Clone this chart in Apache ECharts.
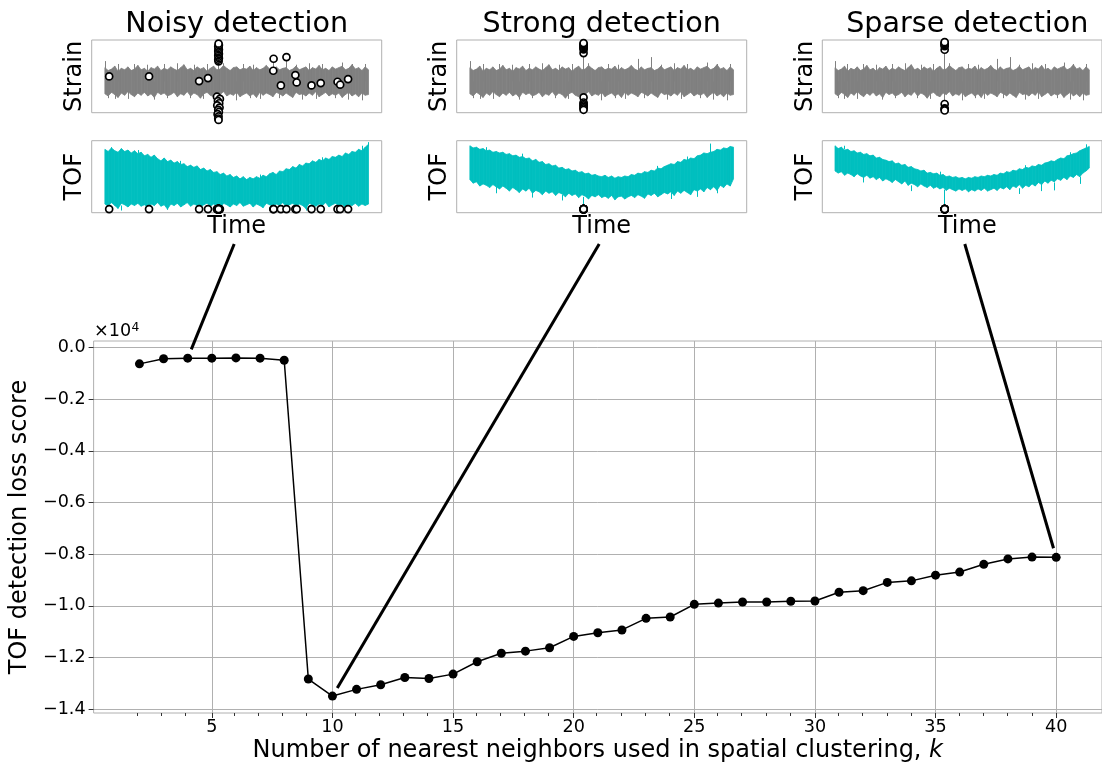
<!DOCTYPE html>
<html>
<head>
<meta charset="utf-8">
<script src="https://cdn.jsdelivr.net/npm/echarts@6/dist/echarts.min.js"></script>
<style>
  html, body { margin: 0; padding: 0; background: #fff; }
  #chart { width: 1102px; height: 766px; }
</style>
</head>
<body>
<div id="chart"></div>
<script>
// ---- main curve: TOF detection loss (x10^4) versus k ----
const K_VALUES = [2, 3, 4, 5, 6, 7, 8, 9, 10, 11, 12, 13, 14, 15, 16, 17, 18, 19, 20, 21,
  22, 23, 24, 25, 26, 27, 28, 29, 30, 31, 32, 33, 34, 35, 36, 37, 38, 39, 40];
const LOSS = [-0.063, -0.043, -0.041, -0.041, -0.040, -0.041, -0.049, -1.283, -1.349, -1.323,
  -1.305, -1.277, -1.281, -1.264, -1.216, -1.183, -1.175, -1.162, -1.118, -1.104,
  -1.093, -1.048, -1.043, -0.994, -0.989, -0.985, -0.985, -0.982, -0.981, -0.947,
  -0.941, -0.909, -0.903, -0.881, -0.869, -0.839, -0.818, -0.811, -0.812];
const X_TICKS = [5, 10, 15, 20, 25, 30, 35, 40];
const X_MINOR = [2, 3, 4, 6, 7, 8, 9, 11, 12, 13, 14, 16, 17, 18, 19, 21, 22, 23, 24, 26,
  27, 28, 29, 31, 32, 33, 34, 36, 37, 38, 39];
const Y_TICKS = [0, -0.2, -0.4, -0.6, -0.8, -1.0, -1.2, -1.4];
const X_MIN = 0.1, X_MAX = 41.9;
const Y_MIN = -1.4145, Y_MAX = 0.0255;

// k values whose detections are shown in the three insets
const CALLOUT_K = [4, 10, 40];
const PANEL_TITLES = ['Noisy detection', 'Strong detection', 'Sparse detection'];

// ---- strain trace (shared by the three insets), sample index 0..80 ----
const STRAIN_HI = [
  19, 15, 17, 21, 14, 18, 16, 20, 15, 17,
  22, 16, 18, 14, 19, 17, 21, 15, 18, 16,
  20, 17, 15, 19, 23, 16, 18, 15, 20, 17,
  19, 14, 18, 21, 16, 17, 22, 18, 15, 19,
  20, 16, 18, 17, 21, 15, 19, 16, 18, 22,
  17, 15, 20, 16, 18, 19, 15, 17, 21, 16,
  18, 20, 15, 19, 17, 22, 16, 18, 15, 20,
  17, 19, 21, 16, 18, 23, 17, 19, 15, 20,
  16];
const STRAIN_LO = [
  -17, -20, -15, -18, -22, -16, -19, -14, -18, -21,
  -16, -19, -15, -20, -17, -22, -15, -18, -16, -20,
  -18, -15, -21, -17, -19, -14, -20, -16, -18, -23,
  -17, -15, -19, -21, -16, -18, -14, -20, -17, -19,
  -15, -21, -18, -16, -20, -17, -22, -15, -19, -16,
  -18, -21, -15, -17, -20, -16, -19, -22, -15, -18,
  -17, -20, -16, -19, -14, -21, -18, -15, -20, -17,
  -19, -16, -22, -18, -15, -20, -17, -21, -16, -19,
  -18];
// isolated strain excursions: [sample, from, to]
const STRAIN_SPIKES = [
  [0, 0, 28], [4, 0, 24], [9, 0, 24], [13, 0, 23], [18, 0, 24], [22, 0, 25], [27, 0, 23],
  [31, 0, 24], [36, 0, 25], [42, 0, 24], [45, 0, 23], [51.1, 0, 31], [55.1, 0, 33.5],
  [58, 0, 23], [62, 0, 25], [66, 0, 24], [72, 0, 26], [75, 0, 24], [79, 0, 24],
  [1, 0, -23], [3, 0, -24], [7, 0, -24], [15, 0, -25], [19, 0, -23], [26, 0, -23],
  [30, 0, -24], [40, 0, -26], [44, 0, -23], [47, 0, -24], [53, 0, -23], [60, 0, -25],
  [64, 0, -24], [70, 0, -23], [74, 0, -25], [78, 0, -26]];
const BURST_NOISY = [[34.5, -52, 52]];
const BURST_STRONG = [[34.5, -39, 52]];
const BURST_SPARSE = [[34.5, -39, 53]];

// ---- TOF traces, one per inset ----
const TOF_NOISY_HI = [
  88, 85, 90, 86, 84, 89, 85, 87, 83, 86,
  82, 84, 79, 81, 77, 80, 75, 72, 76, 71,
  73, 69, 71, 67, 68, 64, 66, 63, 65, 60,
  62, 58, 60, 56, 57, 53, 55, 51, 53, 49,
  51, 47, 50, 46, 49, 47, 50, 48, 52, 50,
  54, 56, 53, 58, 57, 61, 60, 64, 62, 67,
  65, 69, 68, 72, 70, 74, 72, 76, 74, 78,
  77, 80, 78, 83, 81, 85, 84, 88, 86, 91,
  95];
const TOF_NOISY_LO = [
  12, 9, 14, 10, 6, 13, 11, 8, 12, 10,
  13, 9, 11, 7, 12, 10, 14, 9, 11, 5,
  12, 10, 13, 8, 11, 14, 9, 12, 10, 7,
  11, 13, 9, 12, 10, 6, 13, 11, 8, 12,
  10, 14, 9, 11, 13, 8, 12, 10, 7, 13,
  11, 9, 12, 10, 14, 8, 11, 13, 9, 12,
  10, 6, 13, 11, 9, 12, 10, 14, 8, 11,
  13, 9, 12, 7, 11, 10, 13, 9, 12, 10,
  12];
const TOF_STRONG_HI = [
  93, 90, 91, 88, 89, 86, 87, 84, 85, 83,
  84, 81, 82, 79, 80, 77, 78, 75, 76, 72,
  74, 70, 71, 67, 68, 65, 66, 62, 63, 60,
  61, 58, 59, 56, 57, 54, 55, 52, 53, 51,
  50, 52, 49, 51, 48, 50, 49, 51, 50, 53,
  52, 55, 54, 57, 56, 59, 58, 62, 61, 64,
  66, 68, 67, 71, 70, 74, 73, 76, 75, 79,
  80, 83, 82, 84, 85, 88, 87, 90, 89, 92,
  91];
const TOF_STRONG_LO = [
  46, 41, 43, 37, 40, 38, 35, 39, 36, 33,
  37, 34, 30, 35, 32, 28, 33, 30, 34, 27,
  31, 29, 25, 30, 27, 29, 24, 28, 26, 22,
  27, 24, 26, 21, 25, 23, 19, 24, 22, 25,
  21, 23, 20, 24, 18, 22, 23, 19, 22, 24,
  21, 25, 23, 20, 26, 24, 27, 22, 25, 28,
  26, 29, 24, 30, 27, 31, 28, 25, 32, 30,
  33, 29, 35, 32, 36, 31, 38, 35, 40, 37,
  47];
const TOF_SPARSE_HI = [
  93, 89, 91, 87, 88, 85, 86, 83, 84, 81,
  82, 79, 80, 76, 77, 74, 73, 71, 72, 68,
  69, 66, 67, 63, 64, 61, 60, 58, 59, 55,
  56, 54, 55, 52, 53, 50, 51, 49, 50, 48,
  49, 47, 49, 48, 50, 49, 51, 50, 52, 51,
  53, 52, 55, 54, 57, 56, 59, 58, 61, 60,
  63, 62, 65, 64, 67, 66, 69, 70, 72, 71,
  74, 76, 75, 79, 80, 82, 83, 86, 88, 90,
  92];
const TOF_SPARSE_LO = [
  58, 55, 57, 52, 55, 53, 50, 54, 51, 49,
  52, 48, 50, 46, 49, 44, 47, 45, 42, 46,
  43, 40, 44, 38, 41, 39, 36, 40, 37, 35,
  38, 34, 36, 33, 35, 31, 34, 32, 30, 33,
  31, 33, 29, 32, 30, 33, 31, 34, 30, 32,
  34, 31, 35, 33, 36, 32, 37, 35, 39, 34,
  38, 36, 40, 37, 42, 39, 44, 41, 45, 43,
  47, 45, 49, 46, 51, 49, 53, 50, 55, 58,
  62];
// isolated TOF excursions: [sample, from, to]
const TOF_SPIKES_NOISY = [
  [2, 86, 91], [10, 82, 87], [23, 67, 72], [47, 48, 53], [66, 72, 77], [78, 86, 93], [80, 92, 98],
  [5, 10, 3], [19, 9, 4], [35, 9, 3], [61, 9, 3], [73, 10, 4]];
const TOF_SPIKES_STRONG = [
  [34.5, 22, 5], [8, 36, 27], [19, 29, 21], [28, 25, 17], [61, 28, 19], [69, 31, 22], [75, 35, 27],
  [5, 86, 91], [16, 77, 82], [57, 60, 65], [66, 72, 78], [73, 83, 96]];
const TOF_SPIKES_SPARSE = [
  [34.5, 32, 5], [9, 50, 42], [24, 38, 30], [58, 34, 26], [65, 40, 30], [69, 42, 31], [77, 50, 40],
  [3, 88, 93], [33, 52, 57], [60, 61, 66], [74, 78, 84], [79, 90, 95]];

// ---- detected samples: [sample, strain value] ----
const DETECT_NOISY = [
  [1.3, 6.9], [13.4, 6.9], [28.6, 0.5], [31.3, 4.6], [51.1, 14.7], [51.2, 31.2], [53.4, -5.5],
  [55.1, 33.5], [57.8, 8.8], [58.2, -1.4], [62.7, -5.5], [65.5, -2.3], [70.6, -0.4],
  [71.4, -4.5], [73.8, 3.2],
  [34.5, 27.5], [34.4, 30], [34.6, 32], [34.5, 34], [34.4, 36], [34.6, 38], [34.5, 40],
  [34.4, 42], [34.6, 44], [34.5, 46], [34.4, 48], [34.6, 50], [34.5, 52],
  [34.0, -21], [34.9, -24], [34.3, -27], [34.7, -30], [34.1, -33], [34.8, -36], [34.4, -39],
  [34.6, -42], [34.2, -45], [34.5, -48], [34.4, -51], [34.5, -53]];
const DETECT_STRONG = [
  [34.5, 39], [34.5, 44], [34.5, 45.5], [34.5, 47], [34.5, 48.5], [34.5, 50], [34.5, 51.5], [34.5, 52.8],
  [34.5, -22], [34.5, -29], [34.5, -31], [34.5, -33], [34.5, -35], [34.5, -37], [34.5, -39]];
const DETECT_SPARSE = [
  [34.5, 43.6], [34.5, 48.5], [34.5, 50], [34.5, 51.5], [34.5, 53], [34.5, 54],
  [34.5, -31], [34.5, -37], [34.5, -38.5], [34.5, -40]];
const TOF_MARK_LEVEL = 5;

// ---- layout ----
const FONT = 'DejaVu Sans';
const MAIN = { left: 91.3, top: 341, width: 1021.2, height: 372 };
const PANEL_LEFTS = [91.7, 456.7, 822.3];
const PANEL_W = 290;
const STRAIN_BOX = { top: 40, height: 72.7 };
const TOF_BOX = { top: 140.7, height: 72 };
const FRAME = '#b0b0b0';
const GRAY = '#808080';
const CYAN = '#00bfbf';

const panels = [
  { hi: STRAIN_HI, lo: STRAIN_LO, burst: BURST_NOISY, tofHi: TOF_NOISY_HI, tofLo: TOF_NOISY_LO, tofSpikes: TOF_SPIKES_NOISY, det: DETECT_NOISY },
  { hi: STRAIN_HI, lo: STRAIN_LO, burst: BURST_STRONG, tofHi: TOF_STRONG_HI, tofLo: TOF_STRONG_LO, tofSpikes: TOF_SPIKES_STRONG, det: DETECT_STRONG },
  { hi: STRAIN_HI, lo: STRAIN_LO, burst: BURST_SPARSE, tofHi: TOF_SPARSE_HI, tofLo: TOF_SPARSE_LO, tofSpikes: TOF_SPIKES_SPARSE, det: DETECT_SPARSE }
];

const chart = echarts.init(document.getElementById('chart'), null, { renderer: 'canvas' });

const grids = [
  // main plot
  { left: MAIN.left, top: MAIN.top, width: MAIN.width, height: MAIN.height,
    show: true, borderColor: FRAME, borderWidth: 1, backgroundColor: 'transparent' },
  // same rectangle, carries only the minor ticks of the k axis
  { left: MAIN.left, top: MAIN.top, width: MAIN.width, height: MAIN.height, show: false }
];
const xAxes = [
  { type: 'value', gridIndex: 0, min: X_MIN, max: X_MAX, position: 'bottom',
    axisLine: { show: false, onZero: false },
    axisTick: { show: true, customValues: X_TICKS, length: 5, lineStyle: { color: '#333', width: 1 } },
    axisLabel: { customValues: X_TICKS, fontSize: 17.6, color: '#000', fontFamily: FONT, margin: 5.5 },
    splitLine: { show: true, lineStyle: { color: FRAME, width: 1 } },
    name: 'Number of nearest neighbors used in spatial clustering, {k|k}',
    nameLocation: 'middle', nameGap: 26,
    nameTextStyle: { fontSize: 24, color: '#000', fontFamily: FONT,
      rich: { k: { fontSize: 24, fontStyle: 'italic', color: '#000', fontFamily: FONT } } } },
  { type: 'value', gridIndex: 1, min: X_MIN, max: X_MAX, position: 'bottom',
    axisLine: { show: false, onZero: false },
    axisTick: { show: true, customValues: X_MINOR, length: 3, lineStyle: { color: '#333', width: 1 } },
    axisLabel: { show: false }, splitLine: { show: false } }
];
const yAxes = [
  { type: 'value', gridIndex: 0, min: Y_MIN, max: Y_MAX,
    axisLine: { show: false, onZero: false },
    axisTick: { show: true, customValues: Y_TICKS, length: 5, lineStyle: { color: '#333', width: 1 } },
    axisLabel: { customValues: Y_TICKS, fontSize: 17.6, color: '#000', fontFamily: FONT, margin: 8,
      formatter: v => (v < 0 ? '\u2212' : '') + Math.abs(v).toFixed(1) },
    splitLine: { show: true, lineStyle: { color: FRAME, width: 1 } },
    name: 'TOF detection loss score', nameLocation: 'middle', nameGap: 56,
    nameTextStyle: { fontSize: 24, color: '#000', fontFamily: FONT } },
  { type: 'value', gridIndex: 1, min: Y_MIN, max: Y_MAX, show: false, axisLine: { onZero: false } }
];

const series = [{
  type: 'line', xAxisIndex: 0, yAxisIndex: 0,
  data: K_VALUES.map((k, i) => [k, LOSS[i]]),
  symbol: 'circle', symbolSize: 9, showAllSymbol: true,
  itemStyle: { color: '#000' }, lineStyle: { color: '#000', width: 1.5 },
  z: 5, silent: true
}];

// filled band between a lower and an upper envelope, one quad per sample step
function bandSeries(axisIdx, hi, lo, color) {
  return {
    type: 'custom', coordinateSystem: 'cartesian2d', xAxisIndex: axisIdx, yAxisIndex: axisIdx,
    silent: true, z: 2, clip: false,
    data: hi.slice(0, -1).map((v, i) => [i, lo[i], v, lo[i + 1], hi[i + 1]]),
    encode: { x: 0, y: [1, 2] },
    renderItem: (params, api) => {
      const i = api.value(0);
      const a = api.coord([i, api.value(2)]);
      const b = api.coord([i + 1, api.value(4)]);
      const c = api.coord([i + 1, api.value(3)]);
      const d = api.coord([i, api.value(1)]);
      return { type: 'polygon', shape: { points: [a, b, c, d] },
        style: { fill: color, stroke: color, lineWidth: 0.8 } };
    }
  };
}
// thin vertical excursions: [sample, from, to]
function spikeSeries(axisIdx, data, color) {
  return {
    type: 'lines', coordinateSystem: 'cartesian2d', xAxisIndex: axisIdx, yAxisIndex: axisIdx,
    silent: true, z: 3,
    data: data.map(d => ({ coords: [[d[0], d[1]], [d[0], d[2]]] })),
    lineStyle: { color: color, width: 1, opacity: 1 }
  };
}
function markSeries(axisIdx, data) {
  return {
    type: 'scatter', xAxisIndex: axisIdx, yAxisIndex: axisIdx, data: data, clip: false,
    symbol: 'circle', symbolSize: 7, silent: true, z: 10,
    itemStyle: { color: '#fff', borderColor: '#000', borderWidth: 1.7, opacity: 1 }
  };
}

const insetAxisX = gi => ({ type: 'value', gridIndex: gi, min: -4, max: 84, show: false, axisLine: { onZero: false } });
const insetAxisY = (gi, lo, hi) => ({ type: 'value', gridIndex: gi, min: lo, max: hi, show: false, axisLine: { onZero: false } });

panels.forEach((p, n) => {
  const left = PANEL_LEFTS[n];
  // strain inset
  const sIdx = grids.length;
  grids.push({ left: left, top: STRAIN_BOX.top, width: PANEL_W, height: STRAIN_BOX.height,
    show: true, borderColor: FRAME, borderWidth: 1 });
  xAxes.push(insetAxisX(sIdx));
  yAxes.push(insetAxisY(sIdx, -43, 57));
  series.push(bandSeries(sIdx, p.hi, p.lo, GRAY));
  series.push(spikeSeries(sIdx, STRAIN_SPIKES.concat(p.burst), GRAY));
  series.push(markSeries(sIdx, p.det));
  // TOF inset
  const tIdx = grids.length;
  grids.push({ left: left, top: TOF_BOX.top, width: PANEL_W, height: TOF_BOX.height,
    show: true, borderColor: FRAME, borderWidth: 1 });
  xAxes.push(insetAxisX(tIdx));
  yAxes.push(insetAxisY(tIdx, 0, 100));
  series.push(bandSeries(tIdx, p.tofHi, p.tofLo, CYAN));
  series.push(spikeSeries(tIdx, p.tofSpikes, CYAN));
  series.push(markSeries(tIdx, p.det.map(d => [d[0], TOF_MARK_LEVEL])));
});

chart.setOption({
  animation: false,
  backgroundColor: '#fff',
  textStyle: { fontFamily: FONT },
  grid: grids, xAxis: xAxes, yAxis: yAxes, series: series
});

// texts and call-out connectors
const graphics = [];
const txt = (x, y, text, size, extra) => Object.assign({
  type: 'text', x: x, y: y, silent: true, z: 20,
  style: { text: text, fontSize: size, fontFamily: FONT, fill: '#000', align: 'center', verticalAlign: 'middle' }
}, extra || {});

PANEL_LEFTS.forEach((left, n) => {
  const cx = left + PANEL_W / 2;
  graphics.push(txt(cx, 25, PANEL_TITLES[n], 28.6));
  graphics.push(txt(left - 16.7, STRAIN_BOX.top + STRAIN_BOX.height / 2, 'Strain', 24, { rotation: Math.PI / 2 }));
  graphics.push(txt(left - 16.7, TOF_BOX.top + TOF_BOX.height / 2, 'TOF', 24, { rotation: Math.PI / 2 }));
  graphics.push(txt(cx, 226.7, 'Time', 24));

  // connector from the inset to its data point, stopping short of the marker
  const k = CALLOUT_K[n];
  const i = K_VALUES.indexOf(k);
  const target = chart.convertToPixel({ seriesIndex: 0 }, [k, LOSS[i]]);
  const start = [cx - 2.5, 244];
  const dx = target[0] - start[0], dy = target[1] - start[1];
  const len = Math.sqrt(dx * dx + dy * dy);
  const gap = 9.5;
  graphics.push({
    type: 'line', silent: true, z: 15,
    shape: { x1: start[0], y1: start[1], x2: target[0] - dx / len * gap, y2: target[1] - dy / len * gap },
    style: { stroke: '#000', lineWidth: 3 }
  });
});

// axis multiplier
graphics.push({ type: 'text', x: 94, y: 331.2, silent: true, z: 20,
  style: { text: '\u00d710', fontSize: 17.6, fontFamily: FONT, fill: '#000', align: 'left', verticalAlign: 'middle' } });
graphics.push({ type: 'text', x: 131.5, y: 327.4, silent: true, z: 20,
  style: { text: '4', fontSize: 12.3, fontFamily: FONT, fill: '#000', align: 'left', verticalAlign: 'middle' } });

chart.setOption({ graphic: graphics });
</script>
</body>
</html>
